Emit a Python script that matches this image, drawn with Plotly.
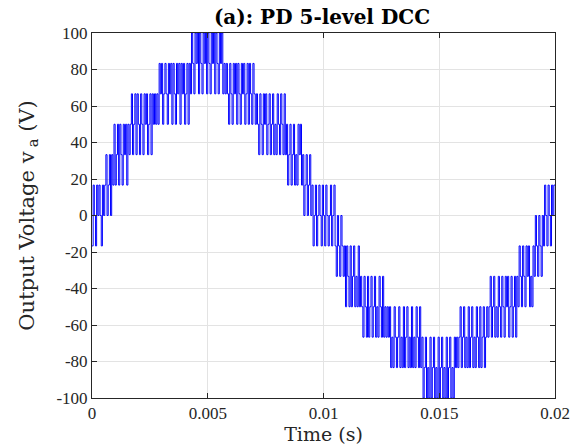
import numpy as np
import plotly.graph_objects as go

# Output level (in units of one DC step = 100/6 V), one value per 0.05 ms sample, rows = 1 ms
level_step_v = 100.0 / 6.0
sample_ms = 0.05
levels = [
    -1, 1, 0, -1, 1, 0, 1, 0, -1, 1, 0, 1, 2, 0, 1, 2, 0, 2, 1, 3,
    1, 2, 3, 1, 3, 2, 1, 3, 2, 3, 1, 3, 2, 3, 4, 2, 3, 4, 2, 4,
    3, 2, 4, 3, 2, 4, 3, 4, 2, 3, 4, 2, 4, 3, 4, 3, 4, 3, 5, 4,
    5, 3, 4, 5, 4, 3, 5, 4, 5, 3, 5, 4, 3, 5, 4, 5, 3, 5, 4, 5,
    3, 4, 5, 3, 5, 4, 6, 5, 4, 6, 5, 6, 4, 6, 5, 4, 6, 5, 6, 4,
    6, 5, 4, 6, 5, 6, 4, 6, 5, 4, 6, 5, 6, 4, 5, 4, 5, 4, 3, 5,
    4, 3, 5, 4, 5, 3, 5, 4, 3, 5, 4, 5, 3, 4, 5, 3, 5, 4, 3, 5,
    4, 3, 4, 3, 2, 4, 3, 2, 4, 3, 4, 2, 3, 4, 2, 3, 4, 2, 3, 2,
    4, 3, 2, 4, 3, 2, 4, 2, 3, 1, 2, 3, 1, 2, 3, 1, 2, 1, 3, 2,
    3, 1, 2, 0, 1, 2, 0, 1, 2, 0, 1, -1, 0, 1, -1, 0, 1, 0, -1, 1,
    0, -1, 1, 0, -1, 0, 1, -1, 0, 1, -1, -2, 0, -1, -2, 0, -1, -2, -1, -3,
    -1, -2, -3, -1, -3, -2, -1, -3, -2, -3, -1, -3, -2, -3, -4, -2, -3, -4, -2, -4,
    -3, -2, -4, -3, -2, -4, -3, -4, -2, -3, -4, -2, -4, -3, -4, -3, -4, -3, -5, -4,
    -5, -3, -4, -5, -4, -3, -5, -4, -5, -3, -5, -4, -3, -5, -4, -5, -3, -5, -4, -5,
    -3, -4, -5, -3, -5, -4, -6, -5, -4, -6, -5, -6, -4, -6, -5, -4, -6, -5, -6, -4,
    -6, -5, -4, -6, -5, -6, -4, -6, -5, -4, -6, -5, -6, -4, -5, -4, -5, -4, -3, -5,
    -4, -3, -5, -4, -5, -3, -5, -4, -3, -5, -4, -5, -3, -4, -5, -3, -5, -4, -3, -5,
    -4, -3, -4, -3, -2, -4, -3, -2, -4, -3, -4, -2, -3, -4, -2, -3, -4, -2, -3, -2,
    -4, -3, -2, -4, -3, -2, -4, -2, -3, -1, -2, -3, -1, -2, -3, -1, -2, -1, -3, -2,
    -3, -1, -2, 0, -1, -2, 0, -1, -2, 0, -1, 1, 0, -1, 1, 0, -1, 1, 0, 1,
    1,
]

x_tick_vals = [0, 0.005, 0.01, 0.015, 0.02]
x_tick_text = ["0", "0.005", "0.01", "0.015", "0.02"]
y_tick_vals = [-100, -80, -60, -40, -20, 0, 20, 40, 60, 80, 100]
y_tick_text = ["-100", "-80", "-60", "-40", "-20", "0", "20", "40", "60", "80", "100"]

t_s = np.arange(len(levels)) * sample_ms / 1000.0
v = np.array(levels) * level_step_v

serif = "Liberation Serif"
wide_serif = "DejaVu Serif"
ink = "#262626"

fig = go.Figure()
fig.add_trace(go.Scatter(
    x=t_s, y=v, mode="lines", line=dict(color="#0000ff", width=1.0, shape="hv"),
    hoverinfo="skip",
))

axis_common = dict(
    ticks="inside", ticklen=5, tickcolor=ink, tickwidth=1,
    showline=True, linecolor=ink, linewidth=1, mirror="ticks",
    showgrid=True, gridcolor="#e3e3e3", gridwidth=1, zeroline=False,
    tickfont=dict(family=serif, size=17, color=ink),
    automargin=False,
)

fig.update_layout(
    width=571, height=447,
    margin=dict(l=92, r=16, t=33, b=49, pad=0),
    paper_bgcolor="white", plot_bgcolor="white",
    showlegend=False,
    title=dict(text="<b>(a): PD 5-level DCC</b>", x=322 / 571, xanchor="center",
               xref="container", y=1 - 17 / 447, yanchor="middle",
               font=dict(family=wide_serif, size=20, color="black")),
    xaxis=dict(range=[0, 0.02], tickvals=x_tick_vals, ticktext=x_tick_text,
               title=dict(text="Time (s)", font=dict(family=wide_serif, size=19, color=ink), standoff=0),
               **axis_common),
    yaxis=dict(range=[-100, 100], tickvals=y_tick_vals, ticktext=y_tick_text,
               title=dict(text="Output Voltage v\u2009<sub>a</sub> (V)",
                          font=dict(family=wide_serif, size=21, color=ink), standoff=16),
               **axis_common),
)

fig.write_html("out.html", config={"displayModeBar": False},
               post_script="document.body.style.margin='0px';")
